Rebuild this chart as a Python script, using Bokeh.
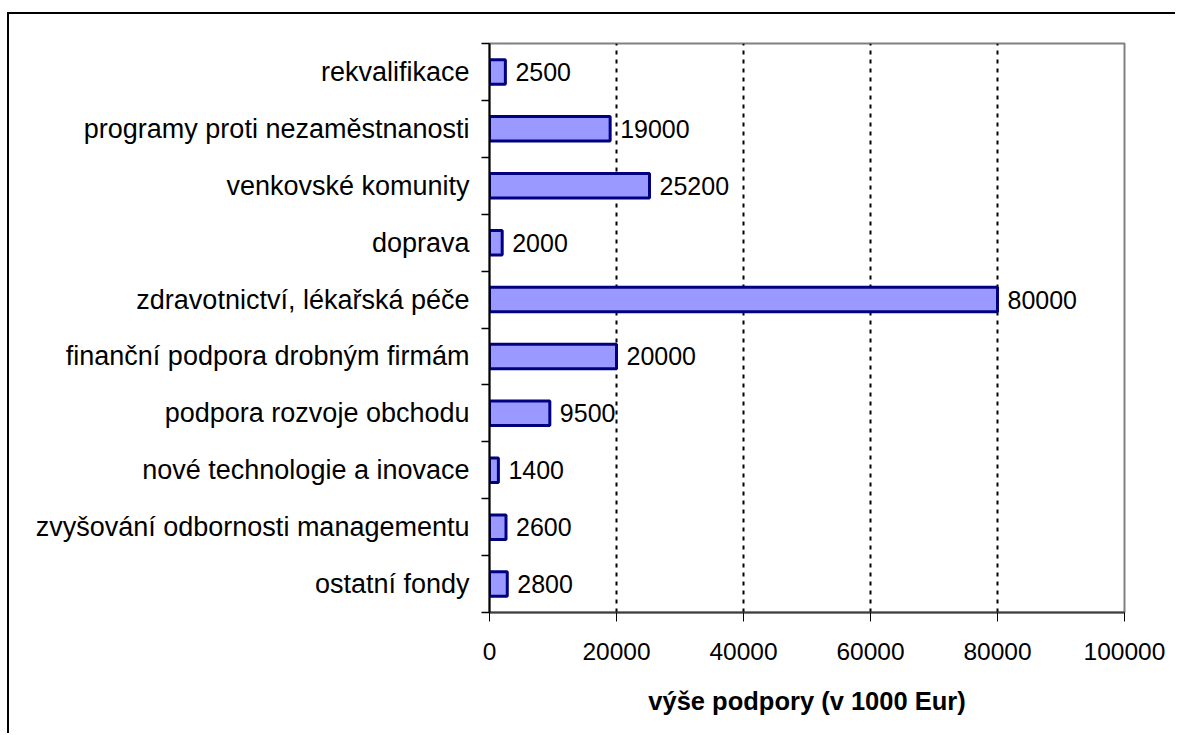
from bokeh.plotting import figure
from bokeh.models import ColumnDataSource, Range1d, FixedTicker, BasicTickFormatter
from bokeh.core.properties import value
from bokeh.embed import file_html
from bokeh.resources import INLINE

categories = [
    "rekvalifikace",
    "programy proti nezaměstnanosti",
    "venkovské komunity",
    "doprava",
    "zdravotnictví, lékařská péče",
    "finanční podpora drobným firmám",
    "podpora rozvoje obchodu",
    "nové technologie a inovace",
    "zvyšování odbornosti managementu",
    "ostatní fondy",
]
values = [2500, 19000, 25200, 2000, 80000, 20000, 9500, 1400, 2600, 2800]
x_ticks = [0, 20000, 40000, 60000, 80000, 100000]
x_title = "výše podpory (v 1000 Eur)"

n = len(categories)
centers = [n - 1 - i + 0.5 for i in range(n)]
boundaries = list(range(n + 1))

src = ColumnDataSource(dict(y=centers, v=values, lab=[str(v) for v in values]))

FONT = "Liberation Sans"

p = figure(
    width=1168, height=721,
    output_backend="svg", toolbar_location=None,
    x_range=Range1d(0, 100000), y_range=Range1d(0, n),
    min_border_left=480, min_border_right=53,
    min_border_top=29, min_border_bottom=123,
)
p.styles = {"border-top": "2px solid black", "border-left": "2px solid black",
            "margin-top": "12px", "margin-left": "7px"}

p.outline_line_color = "#808080"
p.outline_line_width = 2

p.ygrid.visible = False
p.xgrid.ticker = FixedTicker(ticks=x_ticks)
p.xgrid.grid_line_color = "black"
p.xgrid.grid_line_dash = "4 5"
p.xgrid.grid_line_width = 2

p.hbar(y="y", right="v", left=0, height=0.43, source=src,
       fill_color="#9999FF", line_color="#000080", line_width=3)
p.text(x="v", y="y", text="lab", source=src, x_offset=10,
       text_baseline="middle", text_align="left",
       text_font=value(FONT), text_font_size="25px", text_color="black")

# x axis
xa = p.xaxis[0]
xa.ticker = FixedTicker(ticks=x_ticks)
xa.formatter = BasicTickFormatter(use_scientific=False)
xa.axis_line_color = "#404040"
xa.axis_line_width = 2
xa.major_tick_out = 9
xa.major_tick_in = 0
xa.major_tick_line_color = "black"
xa.minor_tick_line_color = None
xa.major_label_text_font = FONT
xa.major_label_text_font_size = "24.5px"
xa.major_label_text_color = "black"
xa.major_label_standoff = 21
xa.axis_label = x_title
xa.axis_label_text_font = FONT
xa.axis_label_text_font_style = "bold"
xa.axis_label_text_font_size = "25.5px"
xa.axis_label_text_color = "black"
xa.axis_label_standoff = 24

# y axis
ya = p.yaxis[0]
ya.ticker = FixedTicker(ticks=centers, minor_ticks=boundaries)
ya.major_label_overrides = {c: cat for c, cat in zip(centers, categories)}
ya.axis_line_color = "black"
ya.axis_line_width = 2
ya.major_tick_out = 0
ya.major_tick_in = 0
ya.major_tick_line_color = None
ya.minor_tick_out = 8
ya.minor_tick_in = 0
ya.minor_tick_line_color = "black"
ya.minor_tick_line_width = 1.5
ya.major_label_text_font = FONT
ya.major_label_text_font_size = "27px"
ya.major_label_text_color = "black"
ya.major_label_standoff = 12

open("out.html", "w").write(file_html(p, INLINE))
